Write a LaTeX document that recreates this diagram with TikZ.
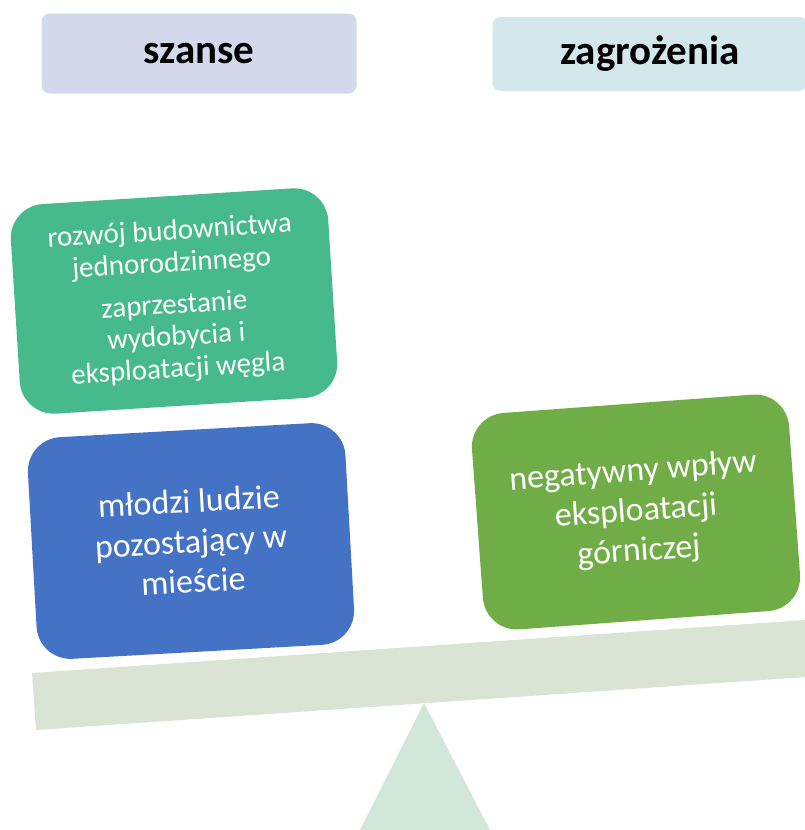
\documentclass[tikz,border=0pt]{standalone}
\usepackage{fontspec}
\setmainfont{Carlito}
\definecolor{szfill}{HTML}{D3D8EB}
\definecolor{zgfill}{HTML}{D4E8EB}
\definecolor{teal}{HTML}{46B98D}
\definecolor{blue}{HTML}{4472C4}
\definecolor{grn}{HTML}{70AD47}
\definecolor{beam}{HTML}{D9E4D4}
\definecolor{base}{HTML}{D2E6DA}

\begin{document}
\begin{tikzpicture}[x=1pt,y=-1pt,
  head/.style={rounded corners=8pt, minimum height=80pt, minimum width=315pt,
    font=\fontsize{41}{44}\selectfont\bfseries},
  card/.style={rounded corners=34pt, minimum width=318pt, text=white, align=center,
    font=\fontsize{34}{40}\selectfont}]
\clip (0,0) rectangle (805,830);

\node[head, fill=szfill] (sz) at (199,53.5) {szanse};
\node[head, fill=zgfill, minimum height=74pt] (zg) at (650,54) {zagrożenia};

\node[card, fill=teal, minimum height=210pt, rotate=3.6,
  font=\fontsize{29}{32}\selectfont] (rb) at (174,301)
  {rozwój budownictwa\\jednorodzinnego\\[10pt]zaprzestanie\\wydobycia i\\eksploatacji węgla};
\node[card, fill=blue, minimum height=222pt, rotate=3.2] (ml) at (191,541)
  {młodzi ludzie\\pozostający w\\mieście};
\node[card, fill=grn, minimum height=217pt, rotate=4.2] (nw) at (636,512)
  {negatywny wpływ\\eksploatacji\\górniczej};

\coordinate (apex) at (424,703);
\fill[base] (apex) -- (490,830) -- (360,830) -- cycle;
\fill[beam] (32,673) -- (820,619) -- (820,676) -- (36,730) -- cycle;

\end{tikzpicture}
\end{document}
